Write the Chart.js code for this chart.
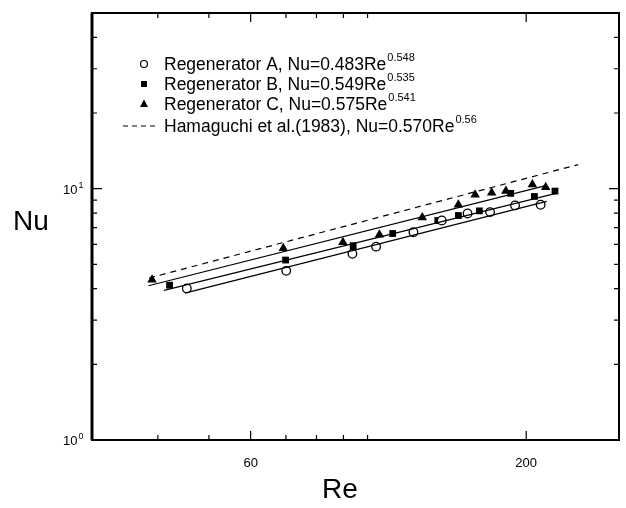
<!DOCTYPE html>
<html>
<head>
<meta charset="utf-8">
<script src="https://cdn.jsdelivr.net/npm/chart.js@4/dist/chart.umd.min.js"></script>
<style>
  html, body { margin: 0; padding: 0; background: #fff; }
  canvas { display: block; }
</style>
</head>
<body>
<canvas id="nuChart" width="626" height="508"></canvas>
<script>
const reA = [45.4, 70.1, 93.6, 103.8, 122.2, 138.3, 154.8, 170.8, 190.5, 213.0];
const nuA = [4.01, 4.71, 5.51, 5.88, 6.71, 7.47, 7.97, 8.07, 8.58, 8.63];

const reB = [42.1, 69.9, 93.9, 111.6, 135.9, 148.7, 163.0, 186.9, 207.3, 226.8];
const nuB = [4.13, 5.20, 5.93, 6.63, 7.47, 7.82, 8.16, 9.58, 9.31, 9.78];

const reC = [39.0, 69.2, 89.8, 105.3, 127.0, 148.7, 160.0, 172.0, 183.0, 205.5, 217.8];
const nuC = [4.34, 5.79, 6.12, 6.55, 7.68, 8.63, 9.46, 9.64, 9.78, 10.38, 10.12];

// correlation lines (end points)
const fitReA = [45.0, 218.7];
const fitNuA = [3.84, 8.90];
const fitReB = [41.1, 226.8];
const fitNuB = [3.94, 9.55];
const fitReC = [38.4, 218.7];
const fitNuC = [4.11, 10.31];
const hamRe = [38.5, 251];
const hamNu = [4.41, 12.47];

// axes
const xTickLabels = [60, 200];
const xMinorTicks = [40, 50, 70, 80, 90, 100];
const yTickLabels = [1, 10];
const yMinorTicks = [2, 3, 4, 5, 6, 7, 8, 9, 20, 30, 40];

const legendLabels = [
  "Regenerator A, Nu=0.483Re",
  "Regenerator B, Nu=0.549Re",
  "Regenerator C, Nu=0.575Re",
  "Hamaguchi et al.(1983), Nu=0.570Re",
];
const legendExponents = ["0.548", "0.535", "0.541", "0.56"];

const FONT = '"Liberation Sans", Arial, Helvetica, sans-serif';

function toXY(xs, ys) {
  return xs.map((v, i) => ({ x: v, y: ys[i] }));
}

function lineSet(xs, ys, dash) {
  return {
    type: "line",
    data: toXY(xs, ys),
    borderColor: "#000",
    borderWidth: 1.2,
    borderDash: dash || [],
    pointRadius: 0,
    fill: false,
  };
}

function drawMarker(ctx, kind, x, y) {
  ctx.beginPath();
  if (kind === "circle") {
    ctx.lineWidth = 1.2;
    ctx.arc(x, y, 3.5, 0, Math.PI * 2);
    ctx.stroke();
  } else if (kind === "rect") {
    ctx.fillRect(x - 3, y - 3, 6, 6);
  } else if (kind === "triangle") {
    ctx.moveTo(x, y - 4.5);
    ctx.lineTo(x + 4, y + 3);
    ctx.lineTo(x - 4, y + 3);
    ctx.closePath();
    ctx.fill();
  } else {
    ctx.lineWidth = 1.2;
    ctx.setLineDash([5, 4]);
    ctx.moveTo(123, y);
    ctx.lineTo(158, y);
    ctx.stroke();
    ctx.setLineDash([]);
  }
}

function textWithSup(ctx, base, sup, x, y, size, supSize, rise) {
  ctx.font = size + "px " + FONT;
  ctx.fillText(base, x, y);
  const w = ctx.measureText(base).width;
  ctx.font = supSize + "px " + FONT;
  ctx.fillText(sup, x + w + 1, y - rise);
}

const paperPlugin = {
  id: "paper",
  afterDraw(chart) {
    const { ctx, chartArea: a } = chart;
    const x = chart.scales.x;
    const y = chart.scales.y;
    ctx.save();
    ctx.strokeStyle = "#000";
    ctx.fillStyle = "#000";

    // frame
    ctx.lineWidth = 2;
    ctx.strokeRect(a.left, a.top, a.right - a.left, a.bottom - a.top);
    ctx.lineWidth = 3;
    ctx.beginPath();
    ctx.moveTo(a.left, a.top);
    ctx.lineTo(a.left, a.bottom);
    ctx.stroke();

    // inward ticks, all four sides
    ctx.lineWidth = 1.2;
    ctx.beginPath();
    const xTick = (v, len) => {
      const px = x.getPixelForValue(v);
      ctx.moveTo(px, a.bottom); ctx.lineTo(px, a.bottom - len);
      ctx.moveTo(px, a.top); ctx.lineTo(px, a.top + len);
    };
    const yTick = (v, len) => {
      const py = y.getPixelForValue(v);
      ctx.moveTo(a.left, py); ctx.lineTo(a.left + len, py);
      ctx.moveTo(a.right, py); ctx.lineTo(a.right - len, py);
    };
    xMinorTicks.forEach((v) => xTick(v, 5));
    xTickLabels.forEach((v) => xTick(v, 9));
    yMinorTicks.forEach((v) => yTick(v, 5));
    yTickLabels.forEach((v) => yTick(v, 10));
    ctx.stroke();

    // tick labels
    ctx.textBaseline = "alphabetic";
    ctx.textAlign = "center";
    ctx.font = "13px " + FONT;
    xTickLabels.forEach((v) => {
      ctx.fillText(String(v), x.getPixelForValue(v), a.bottom + 27);
    });
    ctx.textAlign = "left";
    yTickLabels.forEach((v) => {
      const py = y.getPixelForValue(v);
      const exp = String(Math.round(Math.log10(v)));
      textWithSup(ctx, "10", exp, 63, py + 5, 13, 9, 6);
    });

    // axis titles
    ctx.textAlign = "center";
    ctx.font = "28px " + FONT;
    ctx.fillText("Nu", 31, 230);
    ctx.fillText("Re", 340, 498);

    // legend
    ctx.textAlign = "left";
    const rows = [64, 84, 104, 126];
    const kinds = ["circle", "rect", "triangle", "dash"];
    rows.forEach((ry, i) => {
      drawMarker(ctx, kinds[i], 144, ry);
      textWithSup(ctx, legendLabels[i], legendExponents[i], 164, ry + 6, 17.5, 11, 9);
    });
    ctx.restore();
  },
};

new Chart(document.getElementById("nuChart"), {
  type: "scatter",
  data: {
    datasets: [
      lineSet(hamRe, hamNu, [6, 5]),
      lineSet(fitReC, fitNuC),
      lineSet(fitReB, fitNuB),
      lineSet(fitReA, fitNuA),
      {
        label: "Regenerator A",
        data: toXY(reA, nuA),
        pointStyle: "circle",
        pointRadius: 4.3,
        borderColor: "#000",
        borderWidth: 1.3,
        backgroundColor: "#fff",
      },
      {
        label: "Regenerator B",
        data: toXY(reB, nuB),
        pointStyle: "rect",
        pointRadius: 4.8,
        borderColor: "#000",
        borderWidth: 0,
        backgroundColor: "#000",
      },
      {
        label: "Regenerator C",
        data: toXY(reC, nuC),
        pointStyle: "triangle",
        pointRadius: 5.5,
        borderColor: "#000",
        borderWidth: 0,
        backgroundColor: "#000",
      },
    ],
  },
  options: {
    responsive: false,
    animation: false,
    layout: { padding: { left: 84, right: 7, top: 13, bottom: 60 } },
    plugins: { legend: { display: false }, tooltip: { enabled: false } },
    scales: {
      x: {
        type: "logarithmic",
        min: 30,
        max: 300,
        ticks: { display: false },
        grid: { display: false },
        border: { display: false },
      },
      y: {
        type: "logarithmic",
        min: 1,
        max: 50,
        ticks: { display: false },
        grid: { display: false },
        border: { display: false },
      },
    },
  },
  plugins: [paperPlugin],
});
</script>
</body>
</html>
